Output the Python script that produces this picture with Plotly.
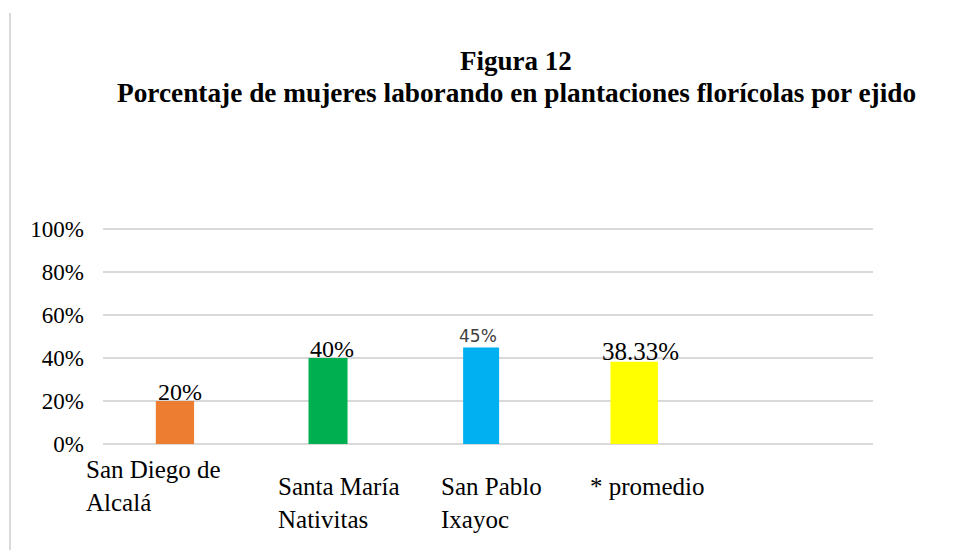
import plotly.graph_objects as go

categories = ["San Diego de<br>Alcalá", "Santa María<br>Nativitas", "San Pablo<br>Ixayoc", "* promedio"]
values = [0.20, 0.40, 0.45, 0.3833]
value_labels = ["20%", "40%", "45%", "38.33%"]
colors = ["#ED7D31", "#00B050", "#00B0F0", "#FFFF00"]
ticks = [0, 0.2, 0.4, 0.6, 0.8, 1.0]
tick_labels = ["0%", "20%", "40%", "60%", "80%", "100%"]
title_line1 = "Figura 12"
title_line2 = "Porcentaje de mujeres laborando en plantaciones florícolas por ejido"

# page body has an 8px margin; size the figure so the screen layout matches
OFF = 8
W, H = 966 - OFF, 550 - OFF
YTOP = 1.02
L, R, T, B = 95, 93, 217, 106
pw, ph = W - L - R, H - T - B
serif = "Liberation Serif, Times New Roman, serif"


def px(sx):
    return (sx - OFF - L) / pw


def py(sy):
    return (H - (sy - OFF) - B) / ph


fig = go.Figure()
fig.add_trace(go.Bar(
    x=list(range(len(categories))), y=values,
    marker=dict(color=colors, line=dict(width=0)),
    width=[0.25, 0.255, 0.235, 0.31],
    hoverinfo="skip",
))

annotations = []
# data labels
label_fonts = [
    dict(family=serif, size=24, color="#000000"),
    dict(family=serif, size=24, color="#000000"),
    dict(family="DejaVu Sans, sans-serif", size=17, color="#404040"),
    dict(family=serif, size=25, color="#000000"),
]
label_shift = [(5, -6), (4, -6), (-3, -1), (6, -5)]
for i, (v, t) in enumerate(zip(values, value_labels)):
    annotations.append(dict(
        x=i, y=v, xref="x", yref="y", text=t, showarrow=False,
        xanchor="center", yanchor="bottom", font=label_fonts[i],
        xshift=label_shift[i][0], yshift=label_shift[i][1],
    ))

# category labels (staggered, left-aligned)
cat_pos = [(-91, -10), (-52, -27), (-42, -27), (-46, -27)]
for i, c in enumerate(categories):
    annotations.append(dict(
        x=i, y=0, xref="x", yref="y", text=c, showarrow=False,
        xanchor="left", yanchor="top", align="left",
        font=dict(family=serif, size=25, color="#000000"),
        xshift=cat_pos[i][0], yshift=cat_pos[i][1],
    ))

# title (two centred lines)
annotations.append(dict(
    x=px(516), y=py(61), xref="paper", yref="paper",
    text="<b>" + title_line1 + "</b>", showarrow=False,
    xanchor="center", yanchor="middle",
    font=dict(family=serif, size=27, color="#000000"),
))
annotations.append(dict(
    x=px(516), y=py(93), xref="paper", yref="paper",
    text="<b>" + title_line2 + "</b>", showarrow=False,
    xanchor="center", yanchor="middle",
    font=dict(family=serif, size=27.3, color="#000000"),
))

fig.update_layout(
    width=W, height=H,
    margin=dict(l=L, r=R, t=T, b=B, pad=0),
    paper_bgcolor="#FFFFFF", plot_bgcolor="#FFFFFF",
    showlegend=False,
    annotations=annotations,
    xaxis=dict(
        range=[-0.47, 4.56], showticklabels=False, showgrid=False,
        zeroline=False, showline=False, ticks="", fixedrange=True,
    ),
    yaxis=dict(
        range=[0, YTOP], tickvals=ticks, ticktext=tick_labels,
        showgrid=True, gridcolor="#D9D9D9", gridwidth=1.5,
        zeroline=True, zerolinecolor="#D9D9D9", zerolinewidth=1.5,
        showline=False, ticks="", ticklabelstandoff=18,
        tickfont=dict(family=serif, size=23, color="#000000"),
        fixedrange=True,
    ),
    shapes=[dict(
        type="line", xref="paper", yref="paper",
        x0=px(10), x1=px(10), y0=py(13), y1=py(560),
        line=dict(color="#D9D9D9", width=2),
    )],
)

fig.write_html("out.html", config={"displayModeBar": False})
